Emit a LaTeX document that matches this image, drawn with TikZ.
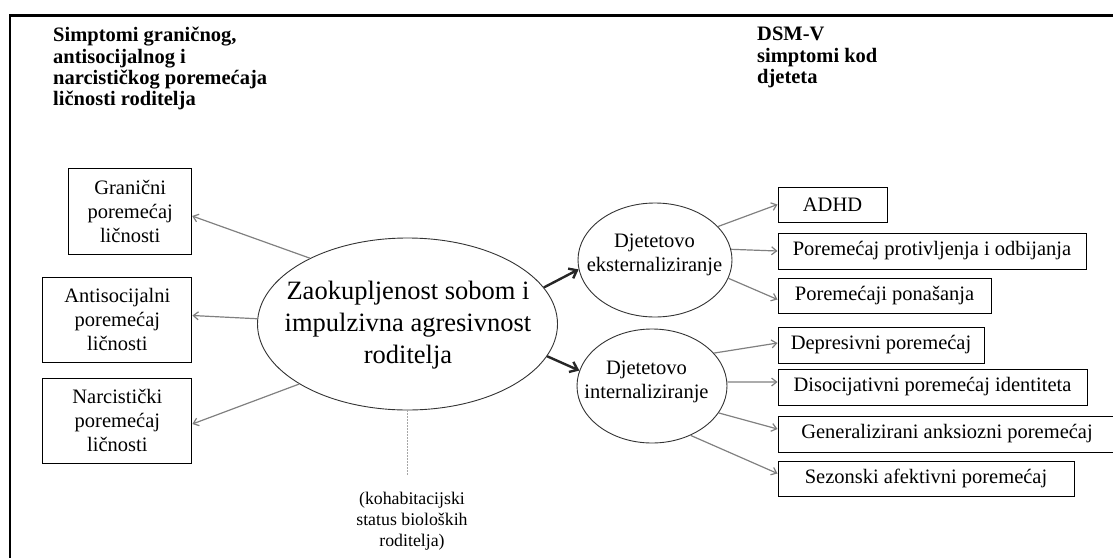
\documentclass[tikz,border=0pt]{standalone}
\usepackage{fontspec}
\setmainfont{Liberation Serif}
\usepackage{tikz}
\usetikzlibrary{shapes.geometric,arrows.meta}

\tikzset{
    frameline/.style={line width=2.2pt, line cap=rect},
    bubble/.style={ellipse, draw=black!80, line width=0.9pt, inner sep=0pt},
    symbox/.style={draw, line width=1pt, inner sep=0pt, align=center, font=\fontsize{20.5}{24}\selectfont},
    hdr/.style={anchor=north west, inner sep=0pt, align=left, font=\fontsize{20.5}{21.4}\selectfont\bfseries},
    thinarr/.style={draw=black!50, line width=1.2pt, -{Straight Barb[length=5pt,width=8pt]}},
    thickarr/.style={draw=black!85, line width=2.4pt, -{Straight Barb[length=7pt,width=11pt]}},
    dotline/.style={draw=black!35, line width=1.8pt, dash pattern=on 1.6pt off 1.4pt},
}

\begin{document}
\begin{tikzpicture}[x=1pt,y=-1pt]
        \useasboundingbox (0,0) rectangle (1113,557);
        \draw[frameline] (10,557) -- (10,15.5) -- (1113,15.5);

        \node[hdr] (hdrparent) at (53,27) {Simptomi graničnog,\\antisocijalnog i\\narcističkog poremećaja\\ličnosti roditelja};
        \node[hdr] (hdrchild)  at (757,27) {DSM-V\\simptomi kod\\djeteta};

        \node[symbox, minimum width=123pt, minimum height=86pt] (gran) at (130.2,211)   {Granični\\poremećaj\\ličnosti};
        \node[symbox, minimum width=149pt, minimum height=85pt] (anti) at (117.4,319.5) {Antisocijalni\\poremećaj\\ličnosti};
        \node[symbox, minimum width=149pt, minimum height=85pt] (narc) at (117.4,420.5) {Narcistički\\poremećaj\\ličnosti};

        \node[bubble, minimum width=300pt, minimum height=172pt] (main) at (407.5,324) {};
        \node[align=center, font=\fontsize{26.5}{31.7}\selectfont] (maintxt) at (408,325) {Zaokupljenost sobom i\\impulzivna agresivnost\\roditelja};
        \node[bubble, minimum width=154pt, minimum height=114pt] (ext) at (655,260) {};
        \node[align=center, font=\fontsize{20.5}{24}\selectfont] (exttxt) at (654.5,255) {Djetetovo\\eksternaliziranje};
        \node[bubble, minimum width=150pt, minimum height=114pt] (int) at (652,386) {};
        \node[align=center, font=\fontsize{20.5}{24}\selectfont] (inttxt) at (646.5,381.5) {Djetetovo\\internaliziranje};

        \node[symbox, minimum width=109pt, minimum height=35pt] (adhd) at (832.5,204.5) {ADHD};
        \node[symbox, minimum width=308pt, minimum height=36pt] (opp)  at (932,251)     {Poremećaj protivljenja i odbijanja};
        \node[symbox, minimum width=213pt, minimum height=35pt] (pon)  at (884.5,295.5) {Poremećaji ponašanja};
        \node[symbox, minimum width=206pt, minimum height=36pt] (dep)  at (881,345)     {Depresivni poremećaj};
        \node[symbox, minimum width=309pt, minimum height=36pt] (dis)  at (932.5,387)   {Disocijativni poremećaj identiteta};
        \node[symbox, minimum width=338pt, minimum height=36pt] (gen)  at (947,434)     {Generalizirani anksiozni poremećaj};
        \node[symbox, minimum width=296pt, minimum height=35pt] (sez)  at (926,478.5)   {Sezonski afektivni poremećaj};

        \node[align=center, font=\fontsize{17.8}{21}\selectfont] (cohab) at (412,521) {(kohabitacijski\\status bioloških\\roditelja)};
        \coordinate (dotend) at (407.5,475);

        \draw[thinarr] (main.146) -- ([yshift=-5pt]gran.east);
        \draw[thinarr] (main.178) -- ([yshift=4pt]anti.east);
        \draw[thinarr] (main.209) -- ([yshift=-3.5pt]narc.east);
        \draw[dotline] (main.south) -- (dotend);

        \draw[thickarr] (main.15) -- (ext.187);
        \draw[thickarr] (main.347) -- (int.168);

        \draw[thinarr] (ext.28) -- (adhd.west);
        \draw[thinarr] (ext.8) -- (opp.west);
        \draw[thinarr] (ext.-14) -- ([yshift=-4pt]pon.west);
        \draw[thinarr] (int.28) -- ([yshift=2pt]dep.west);
        \draw[thinarr] (int.3) -- ([yshift=5pt]dis.west);
        \draw[thinarr] (int.-22) -- ([yshift=5pt]gen.west);
        \draw[thinarr] (int.-52) -- ([yshift=5pt]sez.west);
\end{tikzpicture}
\end{document}
